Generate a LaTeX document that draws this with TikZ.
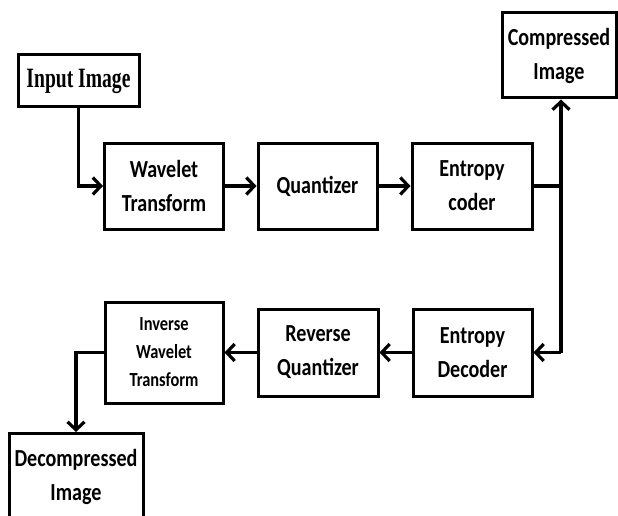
\documentclass[tikz,border=0pt]{standalone}
\usepackage{fontspec}
\usetikzlibrary{arrows.meta}
\newfontfamily\boxfont[FakeStretch=0.82]{Carlito}
\newfontfamily\inpfont[FakeStretch=0.70]{Liberation Serif}
\tikzset{
  blk/.style={draw=black, line width=3pt, fill=white, rectangle, align=center, inner sep=0pt,
    font=\boxfont\bfseries\fontsize{24.5}{34}\selectfont},
  smallblk/.style={blk, font=\boxfont\bfseries\fontsize{20}{28}\selectfont},
  arr/.style={line width=3.2pt, -{Straight Barb[length=8pt,width=17pt,line width=3.2pt]}},
  ln/.style={line width=3.2pt}
}
\begin{document}
\begin{tikzpicture}[x=1pt,y=-1pt]
\clip (0,0) rectangle (618,516);
\fill[white] (0,0) rectangle (618,516);
\node[blk, minimum width=121pt, minimum height=52pt, font=\inpfont\bfseries\fontsize{28}{30}\selectfont] (inp) at (78.5,81) {Input Image};
\node[blk, minimum width=119pt, minimum height=86pt] (wt) at (164,186) {Wavelet\\Transform};
\node[blk, minimum width=119pt, minimum height=86pt] (qz) at (317.5,186) {Quantizer};
\node[blk, minimum width=120pt, minimum height=86pt] (ec) at (472,186) {Entropy\\coder};
\node[blk, minimum width=114pt, minimum height=85pt] (ci) at (559,55.5) {Compressed\\Image};
\node[smallblk, minimum width=118pt, minimum height=101pt] (iwt) at (164,352.5) {Inverse\\Wavelet\\Transform};
\node[blk, minimum width=120pt, minimum height=87pt] (rq) at (318,352.5) {Reverse\\Quantizer};
\node[blk, minimum width=119pt, minimum height=87pt] (ed) at (472.5,352.5) {Entropy\\Decoder};
\node[blk, minimum width=134pt, minimum height=87pt, anchor=north] (dc) at (76,432) {Decompressed\\Image};
\coordinate (j1) at (561,186);
\coordinate (j2) at (561,352.5);
\draw[arr] (inp.south) |- (wt.west);
\draw[arr] (wt) -- (qz);
\draw[arr] (qz) -- (ec);
\draw[ln] (ec.east) -- (j1);
\draw[arr] (j2) -- (j2 |- ci.south);
\draw[arr] (j2) -- (ed.east);
\draw[arr] (ed) -- (rq);
\draw[arr] (rq) -- (iwt);
\draw[arr] (iwt.west) -| (dc.north);
\end{tikzpicture}
\end{document}
